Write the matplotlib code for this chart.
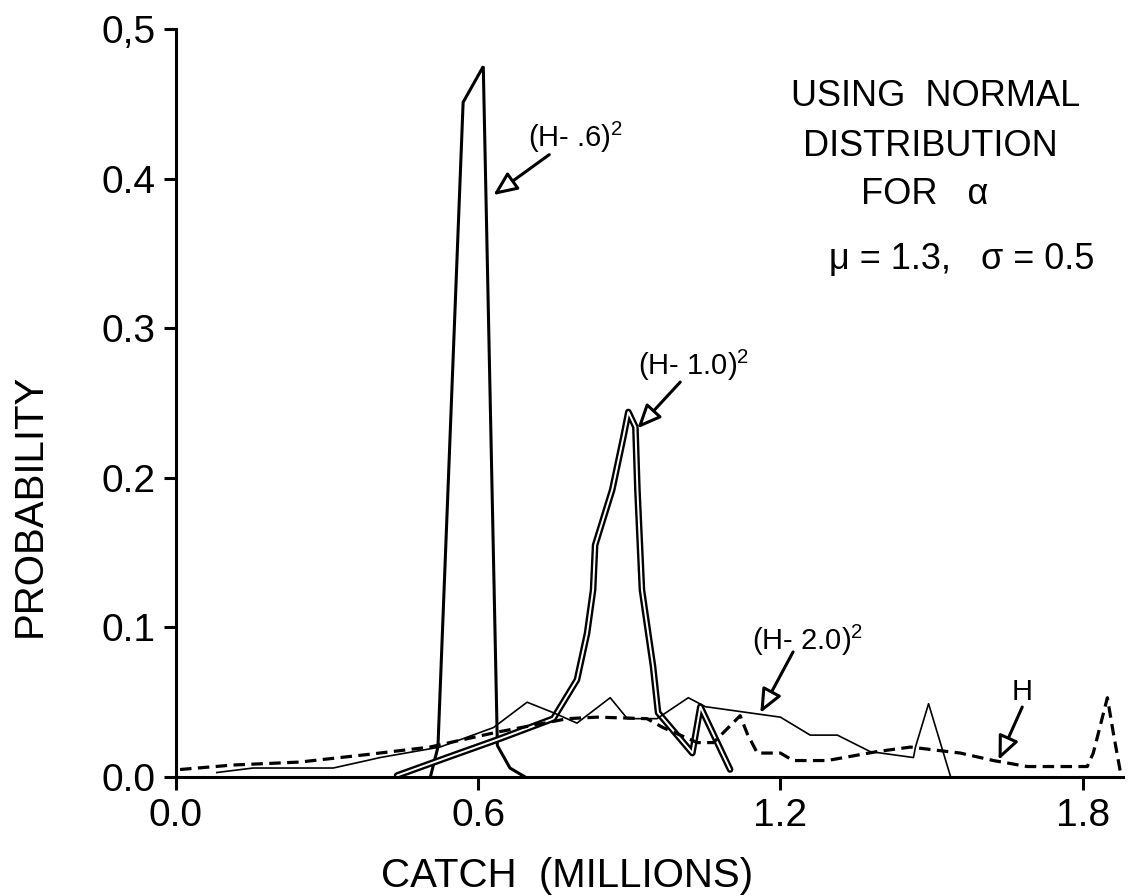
import matplotlib
matplotlib.use("Agg")
import matplotlib.pyplot as plt
from matplotlib import font_manager

# Data -------------------------------------------------------------------------

# (H - .6)^2 : tall narrow spike
h06_x = [0.505, 0.520, 0.570, 0.610, 0.638, 0.663, 0.693]
h06_y = [0.000, 0.020, 0.451, 0.475, 0.021, 0.006, 0.000]

# (H - 1.0)^2 : double-outlined curve
h10_x = [0.439, 0.538, 0.638, 0.749, 0.796, 0.816, 0.828, 0.832, 0.866, 0.888,
         0.898, 0.912, 0.916, 0.925, 0.947, 0.957, 1.025, 1.041, 1.100]
h10_y = [0.001, 0.013, 0.025, 0.039, 0.065, 0.096, 0.125, 0.155, 0.192, 0.227,
         0.244, 0.234, 0.192, 0.125, 0.074, 0.043, 0.016, 0.047, 0.005]

# (H - 2.0)^2 : thin solid
h20_x = [0.081, 0.153, 0.312, 0.379, 0.405, 0.524, 0.630, 0.697, 0.749, 0.796,
         0.862, 0.896, 0.955, 1.017, 1.051, 1.200, 1.259, 1.313, 1.378, 1.464,
         1.468, 1.494, 1.537]
h20_y = [0.003, 0.006, 0.006, 0.011, 0.013, 0.020, 0.033, 0.050, 0.043, 0.036,
         0.053, 0.039, 0.039, 0.053, 0.047, 0.040, 0.028, 0.028, 0.017, 0.013,
         0.020, 0.049, 0.001]

# H : dashed
h_x = [0.008, 0.113, 0.246, 0.379, 0.504, 0.570, 0.638, 0.777, 0.836, 0.935,
       0.967, 1.035, 1.067, 1.120, 1.134, 1.154, 1.200, 1.225, 1.293, 1.392,
       1.458, 1.557, 1.623, 1.690, 1.809, 1.821, 1.849, 1.861, 1.875]
h_y = [0.005, 0.008, 0.010, 0.015, 0.020, 0.025, 0.030, 0.039, 0.040, 0.039,
       0.033, 0.023, 0.023, 0.041, 0.029, 0.016, 0.016, 0.011, 0.011, 0.017,
       0.020, 0.016, 0.011, 0.007, 0.007, 0.016, 0.053, 0.029, 0.003]

x_ticks = [0.0, 0.6, 1.2, 1.8]
x_tick_labels = ["0.0", "0.6", "1.2", "1.8"]
y_ticks = [0.0, 0.1, 0.2, 0.3, 0.4, 0.5]
y_tick_labels = ["0.0", "0.1", "0.2", "0.3", "0.4", "0,5"]

# Fonts ------------------------------------------------------------------------

installed = {f.name for f in font_manager.fontManager.ttflist}
narrow = "Liberation Sans Narrow" if "Liberation Sans Narrow" in installed else "Liberation Sans"
plt.rcParams["font.family"] = ["Liberation Sans", "DejaVu Sans"]
plt.rcParams["mathtext.default"] = "regular"

# Figure -----------------------------------------------------------------------

fig = plt.figure(figsize=(11.28, 8.96), dpi=100)
ax = fig.add_axes([176 / 1128, 1 - 777 / 896, (1123 - 176) / 1128, (777 - 29) / 896])

ax.plot(h06_x, h06_y, color="black", lw=2.2, solid_joinstyle="miter")
ax.plot(h10_x, h10_y, color="black", lw=4.8, solid_capstyle="round")
ax.plot(h10_x, h10_y, color="white", lw=1.4, solid_capstyle="round")
ax.plot(h20_x, h20_y, color="black", lw=1.2)
ax.plot(h_x, h_y, color="black", lw=2.3, dashes=(3.6, 2.0))

ax.set_xlim(0, 1.88)
ax.set_ylim(0, 0.5)
ax.set_xticks(x_ticks)
ax.set_xticklabels(x_tick_labels, family=[narrow, "DejaVu Sans"], fontsize=28)
ax.set_yticks(y_ticks)
ax.set_yticklabels(y_tick_labels, family=[narrow, "DejaVu Sans"], fontsize=28)
ax.tick_params(direction="out", length=9, width=2.2, pad=6)
ax.spines["top"].set_visible(False)
ax.spines["right"].set_visible(False)
for s in ("left", "bottom"):
    ax.spines[s].set_linewidth(2.2)

fig.text(30 / 1128, 1 - 505 / 896, "PROBABILITY", rotation=90,
         ha="center", va="center", fontsize=29)
fig.text(567 / 1128, 1 - 876 / 896, "CATCH  (MILLIONS)",
         ha="center", va="center", fontsize=29)

# Annotations ------------------------------------------------------------------

arrow = dict(arrowstyle="-|>,head_length=0.8,head_width=0.35", mutation_scale=18,
             ec="black", fc="white", lw=2.2, shrinkA=0, shrinkB=0)

ax.text(0.699, 0.421, "(H- .6)$^2$", fontsize=21, ha="left", va="baseline")
ax.annotate("", xy=(0.630, 0.389), xytext=(0.741, 0.416), arrowprops=arrow)

ax.text(0.918, 0.269, "(H- 1.0)$^2$", fontsize=21, ha="left", va="baseline")
ax.annotate("", xy=(0.916, 0.233), xytext=(1.001, 0.264), arrowprops=arrow)

ax.text(1.144, 0.085, "(H- 2.0)$^2$", fontsize=21, ha="left", va="baseline")
ax.annotate("", xy=(1.160, 0.0428), xytext=(1.225, 0.0836), arrowprops=arrow)

ax.text(1.680, 0.0515, "H", fontsize=21, ha="center", va="baseline")
ax.annotate("", xy=(1.633, 0.0114), xytext=(1.680, 0.0468), arrowprops=arrow)

fig.text(936 / 1128, 1 - 97 / 896, "USING  NORMAL", ha="center", va="center", fontsize=26)
fig.text(930 / 1128, 1 - 146 / 896, "DISTRIBUTION", ha="center", va="center", fontsize=26)
fig.text(925 / 1128, 1 - 195 / 896, "FOR   α", ha="center", va="center", fontsize=26)
fig.text(962 / 1128, 1 - 260 / 896, "μ = 1.3,   σ = 0.5", ha="center", va="center", fontsize=26)

fig.savefig("out.png", dpi=100)
